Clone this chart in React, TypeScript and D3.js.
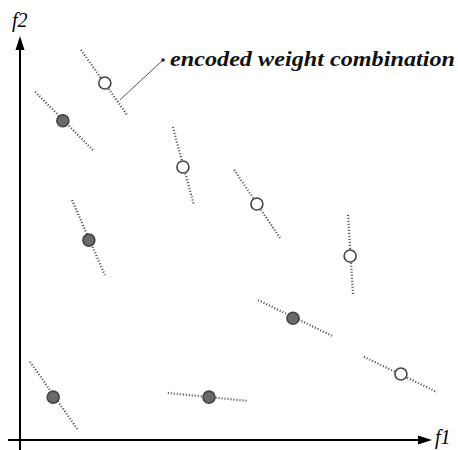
import React from 'react';
import * as d3 from 'd3';

// objective space points (f1, f2) and the segment each one sits on
const f1Values = [20.2, 10.2, 38.8, 56.4, 16.4, 78.6, 65.0, 90.7, 7.9, 45.0];
const f2Values = [85.0, 76.0, 65.0, 56.2, 47.6, 43.8, 29.0, 15.7, 10.2, 10.2];
const filled = [false, true, false, false, true, false, true, false, true, true];
const segF1Start = [14.5, 3.6, 36.4, 51.0, 12.4, 78.1, 56.7, 81.9, 2.4, 35.2];
const segF2Start = [92.9, 82.9, 74.5, 64.3, 57.1, 53.6, 33.3, 19.8, 18.6, 11.2];
const segF1End = [25.5, 17.4, 41.4, 61.9, 20.2, 79.3, 74.3, 99.3, 13.8, 54.3];
const segF2End = [77.4, 69.0, 56.0, 48.1, 39.3, 34.5, 24.8, 11.4, 2.4, 9.3];

const annotation = 'encoded weight combination';
const xLabel = 'f1';
const yLabel = 'f2';

const W = 458;
const H = 450;

export default function App() {
  const x = d3.scaleLinear().domain([0, 100]).range([20, 440]);
  const y = d3.scaleLinear().domain([0, 100]).range([440, 20]);

  const pts = f1Values.map((v, i) => ({
    f1: v,
    f2: f2Values[i],
    filled: filled[i],
    s: [segF1Start[i], segF2Start[i]],
    e: [segF1End[i], segF2End[i]],
  }));

  const serif = "'Liberation Serif', 'DejaVu Serif', serif";
  const axisX0 = x(0);
  const axisY0 = y(0);
  const xTip = 432;
  const yTip = 36;

  // leader from the first open point to the annotation text
  const p0 = pts[0];
  const lx1 = x(p0.f1) + 15;
  const ly1 = y(p0.f2) + 17;
  const lx2 = 163;
  const ly2 = 60;

  return (
    <svg
      width={W}
      height={H}
      style={{ position: 'absolute', left: 0, top: 0, background: '#fff' }}
    >
      {/* axes */}
      <line x1={8} y1={axisY0} x2={xTip - 10} y2={axisY0} stroke="#000" strokeWidth={2} />
      <path d={`M${xTip},${axisY0} L${xTip - 14},${axisY0 - 4.5} L${xTip - 14},${axisY0 + 4.5} Z`} fill="#000" />
      <line x1={axisX0} y1={H} x2={axisX0} y2={yTip + 10} stroke="#000" strokeWidth={2} />
      <path d={`M${axisX0},${yTip} L${axisX0 - 4.5},${yTip + 14} L${axisX0 + 4.5},${yTip + 14} Z`} fill="#000" />

      <text x={435} y={444} fontFamily={serif} fontStyle="italic" fontSize={20} fill="#000">
        {xLabel}
      </text>
      <text x={12} y={27} fontFamily={serif} fontStyle="italic" fontSize={20} fill="#000">
        {yLabel}
      </text>

      {/* segments */}
      {pts.map((p, i) => (
        <line
          key={'s' + i}
          x1={x(p.s[0])}
          y1={y(p.s[1])}
          x2={x(p.e[0])}
          y2={y(p.e[1])}
          stroke="#444"
          strokeWidth={2.2}
          strokeDasharray="1 2"
        />
      ))}

      {/* points */}
      {pts.map((p, i) => (
        <circle
          key={'c' + i}
          cx={x(p.f1)}
          cy={y(p.f2)}
          r={6}
          fill={p.filled ? '#6a6a6a' : '#fff'}
          stroke="#444"
          strokeWidth={1.6}
        />
      ))}

      {/* annotation */}
      <line x1={lx1} y1={ly1} x2={lx2} y2={ly2} stroke="#555" strokeWidth={1} />
      <circle cx={lx2} cy={ly2} r={1.8} fill="#222" />
      <text
        x={170}
        y={66}
        fontFamily={serif}
        fontStyle="italic"
        fontWeight="bold"
        fontSize={20}
        textLength={285}
        lengthAdjust="spacingAndGlyphs"
        fill="#111"
      >
        {annotation}
      </text>
    </svg>
  );
}
